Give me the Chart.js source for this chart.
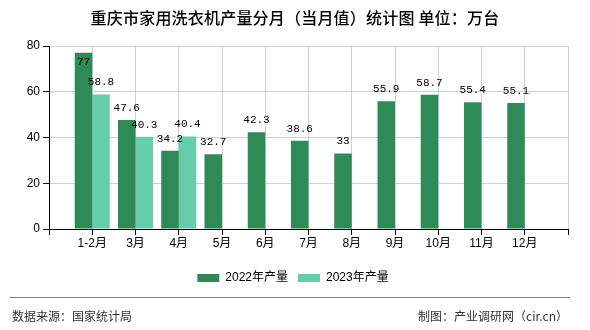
<!DOCTYPE html>
<html>
<head>
<meta charset="utf-8">
<script src="https://cdn.jsdelivr.net/npm/chart.js@4/dist/chart.umd.min.js"></script>
<style>
  html, body { margin: 0; padding: 0; background: #fff; }
  #wrap { position: relative; width: 590px; height: 330px; overflow: hidden; }
  #c { position: absolute; left: 0; top: 0; }
  #title { position: absolute; left: 0; top: 7px; width: 590px; text-align: center;
    font-family: "Noto Sans CJK SC", sans-serif; font-size: 16px; font-weight: 500; color: #000; line-height: 20px; letter-spacing: 0.2px; }
  #line { position: absolute; left: 10px; top: 297px; width: 560px; height: 0; border-top: 1px solid #808080; }
  .foot { position: absolute; top: 308px; font-family: "Noto Sans CJK SC", sans-serif; font-size: 12px; color: #333; line-height: 16px; }
  #src { left: 12px; }
  #mk { right: 22px; }
</style>
</head>
<body>
<div id="wrap">
  <canvas id="c" width="590" height="330"></canvas>
  <div id="title">重庆市家用洗衣机产量分月（当月值）统计图 单位：万台</div>
  <div id="line"></div>
  <div class="foot" id="src">数据来源：国家统计局</div>
  <div class="foot" id="mk">制图：产业调研网（cir.cn）</div>
</div>
<script>
const categories = ['1-2月', '3月', '4月', '5月', '6月', '7月', '8月', '9月', '10月', '11月', '12月'];
const series2022 = [77, 47.6, 34.2, 32.7, 42.3, 38.6, 33, 55.9, 58.7, 55.4, 55.1];
const series2023 = [58.8, 40.3, 40.4, null, null, null, null, null, null, null, null];
const seriesNames = ['2022年产量', '2023年产量'];
const yTicks = [0, 20, 40, 60, 80];

// axis has an empty slot at each end
const labels = [''].concat(categories, ['']);
const pad = arr => [null].concat(arr, [null]);

const valueLabels = {
  id: 'valueLabels',
  afterDatasetsDraw(chart) {
    const ctx = chart.ctx;
    const area = chart.chartArea;
    ctx.save();
    ctx.font = '11px "Liberation Mono", monospace';
    ctx.fillStyle = '#000';
    ctx.textAlign = 'center';
    ctx.textBaseline = 'middle';
    chart.data.datasets.forEach((ds, di) => {
      const meta = chart.getDatasetMeta(di);
      meta.data.forEach((el, i) => {
        const v = ds.data[i];
        if (v === null || v === undefined) return;
        let y = el.y - 12;
        if (y - 5 < area.top) y = el.y + 9;
        ctx.fillText(String(v), el.x, y);
      });
    });
    ctx.restore();
  }
};

const legendShift = {
  id: 'legendShift',
  afterLayout(chart) {
    const lg = chart.legend;
    if (lg) { lg.left += 9; lg.right += 9; }
  }
};

new Chart(document.getElementById('c'), {
  type: 'bar',
  data: {
    labels: labels,
    datasets: [
      { label: seriesNames[0], data: pad(series2022), backgroundColor: '#2e8b57', borderWidth: 0,
        categoryPercentage: 0.81, barPercentage: 1 },
      { label: seriesNames[1], data: pad(series2023), backgroundColor: '#66cdaa', borderWidth: 0,
        categoryPercentage: 0.81, barPercentage: 1 }
    ]
  },
  options: {
    responsive: false,
    animation: false,
    devicePixelRatio: 1,
    layout: { padding: { top: 46, right: 22, bottom: 36, left: 0 } },
    plugins: {
      title: { display: false },
      tooltip: { enabled: false },
      legend: {
        display: true,
        position: 'bottom',
        labels: {
          boxWidth: 22, boxHeight: 8, padding: 10,
          color: '#000',
          font: { family: '"Liberation Sans", "Noto Sans CJK SC", sans-serif', size: 12 }
        }
      }
    },
    scales: {
      x: {
        offset: false,
        grid: { display: true, offset: false, color: '#d0d0d0', tickColor: '#000', tickLength: 6, drawOnChartArea: true },
        border: { color: '#000', width: 1 },
        ticks: { color: '#000', padding: 1, autoSkip: false, maxRotation: 0,
          font: { family: '"Liberation Sans", "Noto Sans CJK SC", sans-serif', size: 12 } },
        afterFit(scale) { scale.height = 33; }
      },
      y: {
        min: 0, max: 80,
        afterBuildTicks(scale) { scale.ticks = yTicks.map(v => ({ value: v })); },
        grid: { color: '#d0d0d0', tickColor: '#000', tickLength: 6 },
        border: { color: '#000', width: 1 },
        ticks: { color: '#000', padding: 3,
          font: { family: '"Liberation Sans", sans-serif', size: 12 } },
        afterFit(scale) { scale.width = 49; }
      }
    }
  },
  plugins: [valueLabels, legendShift]
});
</script>
</body>
</html>
